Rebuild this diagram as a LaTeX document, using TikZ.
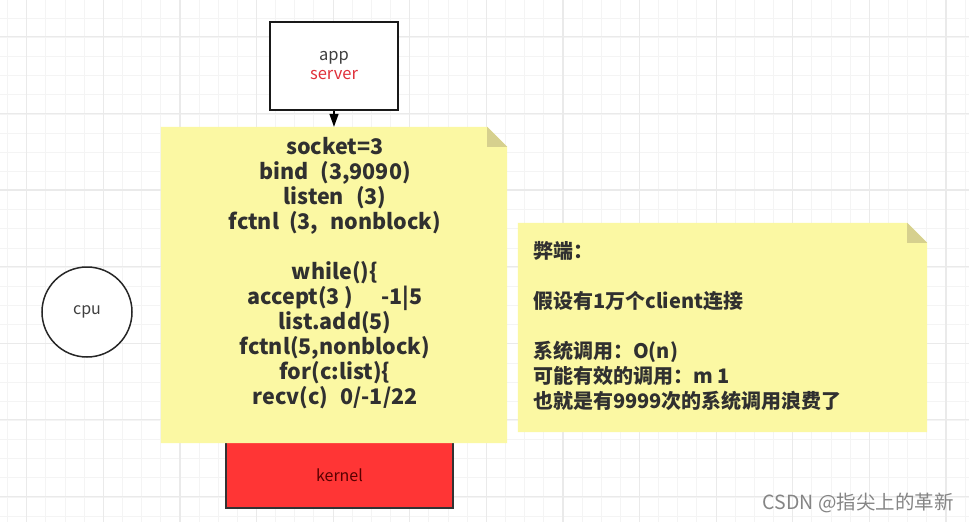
\documentclass[tikz,border=0pt]{standalone}
\usepackage{fontspec}
\setmainfont{Noto Sans CJK SC}
\usetikzlibrary{arrows.meta}
\definecolor{noteyellow}{HTML}{FBF8A3}
\definecolor{notefold}{HTML}{D6D08E}
\definecolor{kernelred}{HTML}{FF3535}
\definecolor{gridminor}{HTML}{F4F4F4}
\definecolor{gridmajor}{HTML}{EAEAEA}
\definecolor{txtdark}{HTML}{303030}
\definecolor{srvred}{HTML}{E0303A}
\tikzset{
  minorline/.style={draw=gridminor, line width=1pt},
  majorline/.style={draw=gridmajor, line width=1.2pt},
  notefill/.style={fill=noteyellow},
  foldfill/.style={fill=notefold},
  boxstyle/.style={draw=black!90, line width=2pt, fill=white, inner sep=0pt},
  codetext/.style={font=\fontsize{21.5}{25}\selectfont\bfseries, text=txtdark, align=center, inner sep=0pt},
  cjktext/.style={font=\fontsize{20}{25}\selectfont\bfseries, text=txtdark, align=left, inner sep=0pt},
  arrowstyle/.style={draw=black, line width=1.5pt, -{Triangle[width=9pt,length=13pt]}}
}
\begin{document}
\begin{tikzpicture}[x=1pt,y=-1pt]
\useasboundingbox (0,0) rectangle (969,522);
\fill[white] (0,0) rectangle (969,522);
% grid
\foreach \i in {0,...,50} \draw[minorline] ({7.55+19.15*\i},0) -- ({7.55+19.15*\i},522);
\foreach \i in {0,...,26} \draw[minorline] (0,{18.3+19.15*\i}) -- (969,{18.3+19.15*\i});
\foreach \i in {0,...,12} \draw[majorline] ({26.7+76.6*\i},0) -- ({26.7+76.6*\i},522);
\foreach \i in {0,...,6} \draw[majorline] (0,{36.7+76.6*\i}) -- (969,{36.7+76.6*\i});

% app box
\node[boxstyle, minimum width=128pt, minimum height=88pt, align=center,
      font=\fontsize{16.5}{19}\selectfont] (app) at (334,66)
  {\textcolor{black!75}{app}\\\textcolor{srvred}{server}};

% kernel
\node[draw=black!80, line width=1.5pt, fill=kernelred, minimum width=227pt, minimum height=66pt, inner sep=0pt,
      font=\fontsize{16}{19}\selectfont, text=black!65!red] (kernel) at (339.5,475) {kernel};

% cpu
\node[draw=black!85, line width=1.5pt, circle, minimum size=90pt, fill=white, inner sep=0pt,
      font=\fontsize{16}{19}\selectfont, text=black!75] (cpu) at (87,312) {cpu};

% note 1
\node[inner sep=0pt, minimum width=346pt, minimum height=316pt] (note1) at (334,285) {};
\fill[notefill] (note1.north west) -- ([xshift=-20pt]note1.north east) -- ([yshift=-20pt]note1.north east)
  -- (note1.south east) -- (note1.south west) -- cycle;
\fill[foldfill] ([xshift=-20pt]note1.north east) -- ([xshift=-20pt,yshift=-20pt]note1.north east)
  -- ([yshift=-20pt]note1.north east) -- cycle;
\node[codetext] (code) at (335,273) {socket=3\\bind\hspace{12pt}(3,9090)\\listen\hspace{12pt}(3)\\fctnl\hspace{10pt}(3,\hspace{12pt}nonblock)\\[25pt]while()\{\\accept(3 )\hspace{28pt}-1|5\\list.add(5)\\fctnl(5,nonblock)\\for(c:list)\{\\recv(c)\hspace{12pt}0/-1/22};

% arrow app -> note1
\draw[arrowstyle] (app.south) -- (note1.north);

% note 2
\node[inner sep=0pt, minimum width=409pt, minimum height=209pt] (note2) at (722.5,327.5) {};
\fill[notefill] (note2.north west) -- ([xshift=-20pt]note2.north east) -- ([yshift=-20pt]note2.north east)
  -- (note2.south east) -- (note2.south west) -- cycle;
\fill[foldfill] ([xshift=-20pt]note2.north east) -- ([xshift=-20pt,yshift=-20pt]note2.north east)
  -- ([yshift=-20pt]note2.north east) -- cycle;
\node[cjktext, anchor=west] (cons) at (533,326) {弊端：\\[25pt]假设有1万个client连接\\[25pt]系统调用：O(n)\\可能有效的调用：m 1\\也就是有9999次的系统调用浪费了};

% watermark
\node[font=\fontsize{19.5}{22}\selectfont, text=black!48, anchor=east, inner sep=0pt] (wm) at (954,503) {CSDN @指尖上的革新};
\end{tikzpicture}
\end{document}
